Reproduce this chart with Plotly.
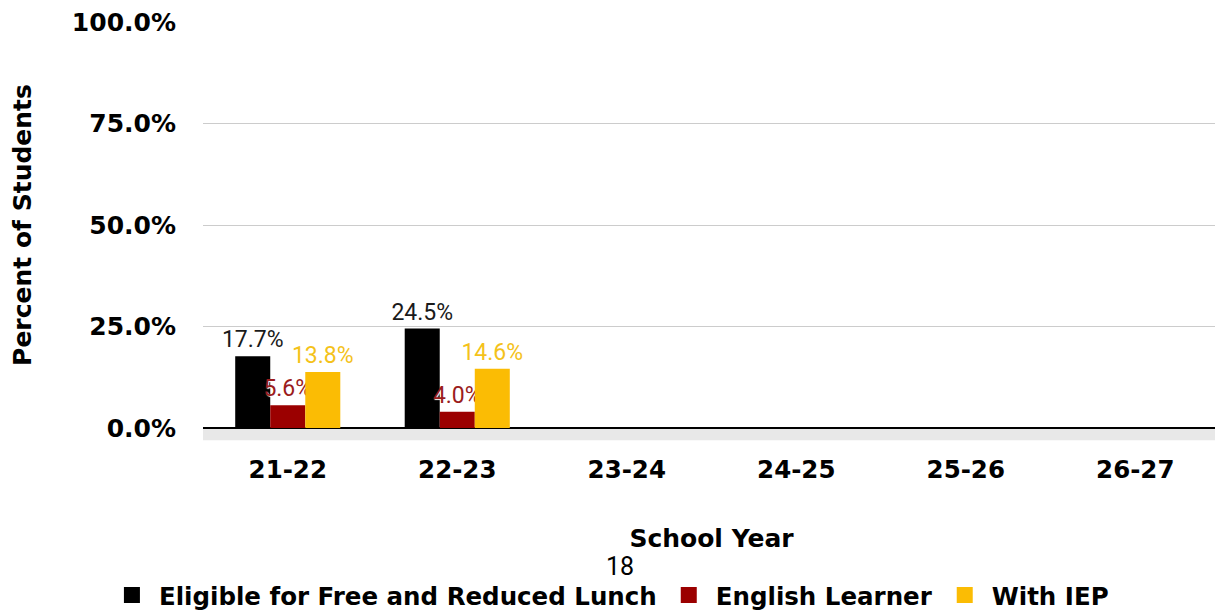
import plotly.graph_objects as go

years = ["21-22", "22-23", "23-24", "24-25", "25-26", "26-27"]
frl = [17.7, 24.5, None, None, None, None]
el = [5.6, 4.0, None, None, None, None]
iep = [13.8, 14.6, None, None, None, None]
series_names = ["Eligible for Free and Reduced Lunch", "English Learner", "With IEP"]
y_ticks = [0, 25, 50, 75, 100]
y_tick_labels = ["0.0%", "25.0%", "50.0%", "75.0%", "100.0%"]

colors = ["#000000", "#9b0000", "#fbbc04"]
label_colors = ["#1a1a1a", "#9b1c1c", "#f4c21a"]

fig = go.Figure()
for vals, name, col, lcol in zip([frl, el, iep], series_names, colors, label_colors):
    fig.add_trace(go.Bar(
        x=years, y=vals, name=name, marker=dict(color=col, line=dict(width=0)),
        text=[f"{v:.1f}%" if v is not None else "" for v in vals],
        textposition="outside", cliponaxis=False, constraintext="none",
        textfont=dict(family="Roboto", size=23, color=lcol,
                      shadow="1px 1px 1px white" if name == "English Learner" else "none"),
        showlegend=False,
    ))
    fig.add_trace(go.Scatter(
        x=[None], y=[None], mode="markers", name=name,
        marker=dict(symbol="square", size=22, color=col),
    ))

# floor band under the zero line
fig.add_shape(type="rect", xref="paper", yref="paper", x0=0, x1=1, y0=-0.03, y1=0,
              fillcolor="#e8e8e8", line=dict(width=0), layer="below")

fig.add_annotation(text="18", xref="paper", yref="paper", x=0.41, y=-0.34,
                   yanchor="middle", xanchor="center",
                   showarrow=False, font=dict(family="Roboto", size=25, color="#000"))

# the page body adds an 8px offset; the figure is sized to fit the 1223x612 window
fig.update_layout(
    width=1215, height=604,
    margin=dict(l=195, r=3, t=14, b=184),
    plot_bgcolor="white", paper_bgcolor="white",
    barmode="group", bargap=0.38, bargroupgap=0,
    font=dict(family="DejaVu Sans", color="#000"),
    xaxis=dict(
        automargin=False,
        showgrid=False, ticks="", ticklabelstandoff=24,
        tickfont=dict(family="DejaVu Sans", size=24.5, weight="bold", color="#000"),
        title=dict(text="School Year", standoff=46,
                   font=dict(family="DejaVu Sans", size=25, weight="bold", color="#000")),
        showline=False,
    ),
    yaxis=dict(
        automargin=False,
        range=[0, 100], tickvals=y_ticks, ticktext=y_tick_labels,
        ticklabeloverflow="allow",
        showgrid=True, gridcolor="#cccccc", gridwidth=1,
        zeroline=True, zerolinecolor="#000", zerolinewidth=2,
        ticklabelstandoff=26,
        tickfont=dict(family="DejaVu Sans", size=25, weight="bold", color="#000"),
        title=dict(text="Percent of Students", standoff=64,
                   font=dict(family="DejaVu Sans", size=25, weight="bold", color="#000")),
    ),
    legend=dict(orientation="h", x=0.495, xanchor="center", xref="container",
                y=0.028, yanchor="middle", yref="container",
                font=dict(family="DejaVu Sans", size=24.5, weight="bold", color="#000"),
                itemsizing="trace", itemwidth=44),
)

fig.write_html("out.html")
